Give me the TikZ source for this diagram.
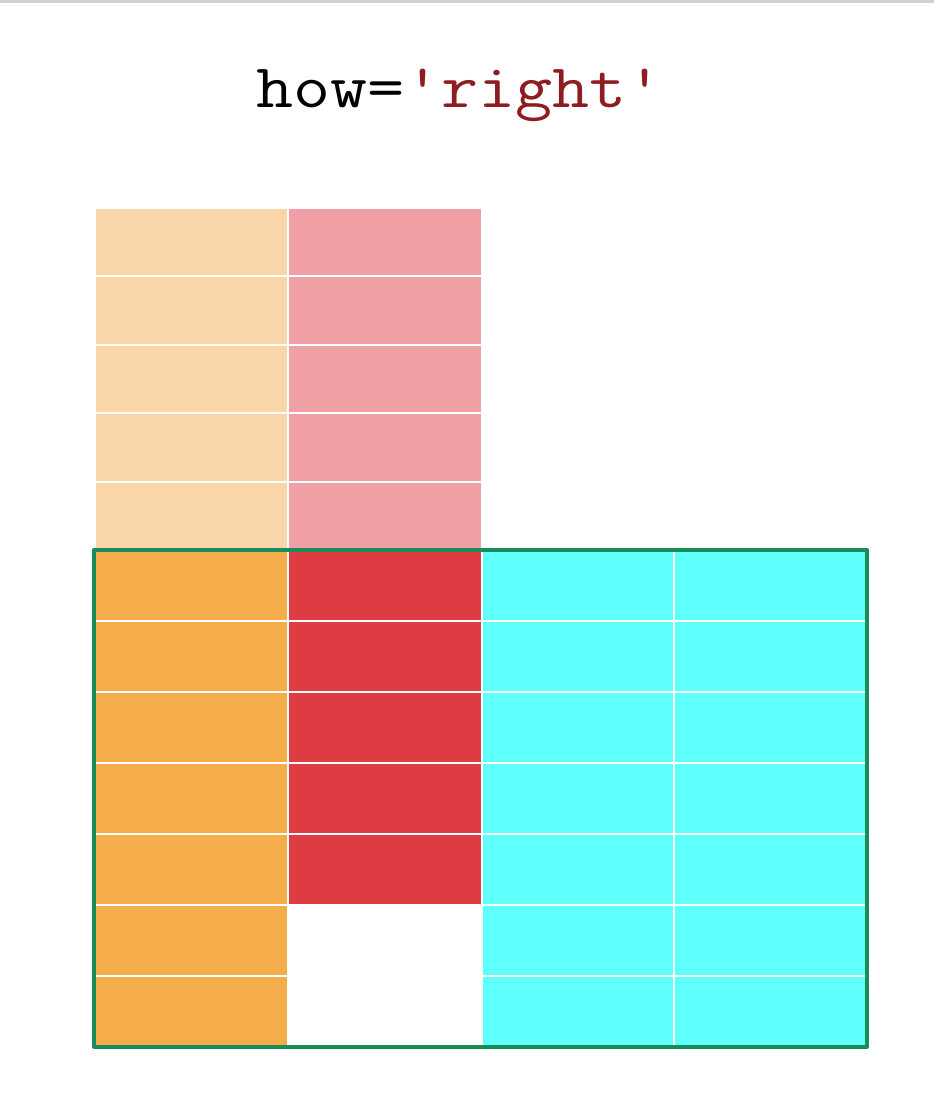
\documentclass[tikz,border=0pt]{standalone}
\usepackage{fontspec}
\usepackage{graphicx}
\usepackage{xcolor}
\usepackage{tikz}

\definecolor{leftpale}{HTML}{F9D5AA}
\definecolor{rightpale}{HTML}{F0A0A4}
\definecolor{leftfull}{HTML}{F5AD4C}
\definecolor{rightfull}{HTML}{DF3B43}
\definecolor{newcols}{HTML}{5FFFFB}
\definecolor{joingreen}{HTML}{1A8C5A}
\definecolor{strred}{HTML}{8E1C20}

\begin{document}
\begin{tikzpicture}[x=0.75pt,y=-0.75pt,
  cell/.style={draw=white,line width=1.4pt},
  frame/.style={draw=joingreen,line width=3pt,line join=round},
  label/.style={font=\ttfamily\fontsize{46.5}{50}\selectfont,inner sep=0pt,anchor=base}
]
\useasboundingbox (0,0) rectangle (934,1107);
\fill[white] (0,0) rectangle (934,1107);
\fill[black!18] (0,0) rectangle (934,3);

\node[label] (title) at (460,107)
  {\scalebox{1.16}[1]{how=\textcolor{strred}{\textquotesingle right\textquotesingle}}};

% left frame (faded part above the result)
\foreach \r in {0,...,4} {
  \draw[cell,fill=leftpale] (95,{208+68.4*\r}) rectangle (288,{208+68.4*(\r+1)});
  \draw[cell,fill=rightpale] (288,{208+68.4*\r}) rectangle (482,{208+68.4*(\r+1)});
}

% result of the join
\foreach \r in {0,...,6} {
  \draw[cell,fill=leftfull] (95,{550+71*\r}) rectangle (288,{550+71*(\r+1)});
  \draw[cell,fill=newcols] (482,{550+71*\r}) rectangle (674,{550+71*(\r+1)});
  \draw[cell,fill=newcols] (674,{550+71*\r}) rectangle (866,{550+71*(\r+1)});
}
\foreach \r in {0,...,4}
  \draw[cell,fill=rightfull] (288,{550+71*\r}) rectangle (482,{550+71*(\r+1)});

\draw[frame] (94,550) rectangle (867,1047);
\end{tikzpicture}
\end{document}
